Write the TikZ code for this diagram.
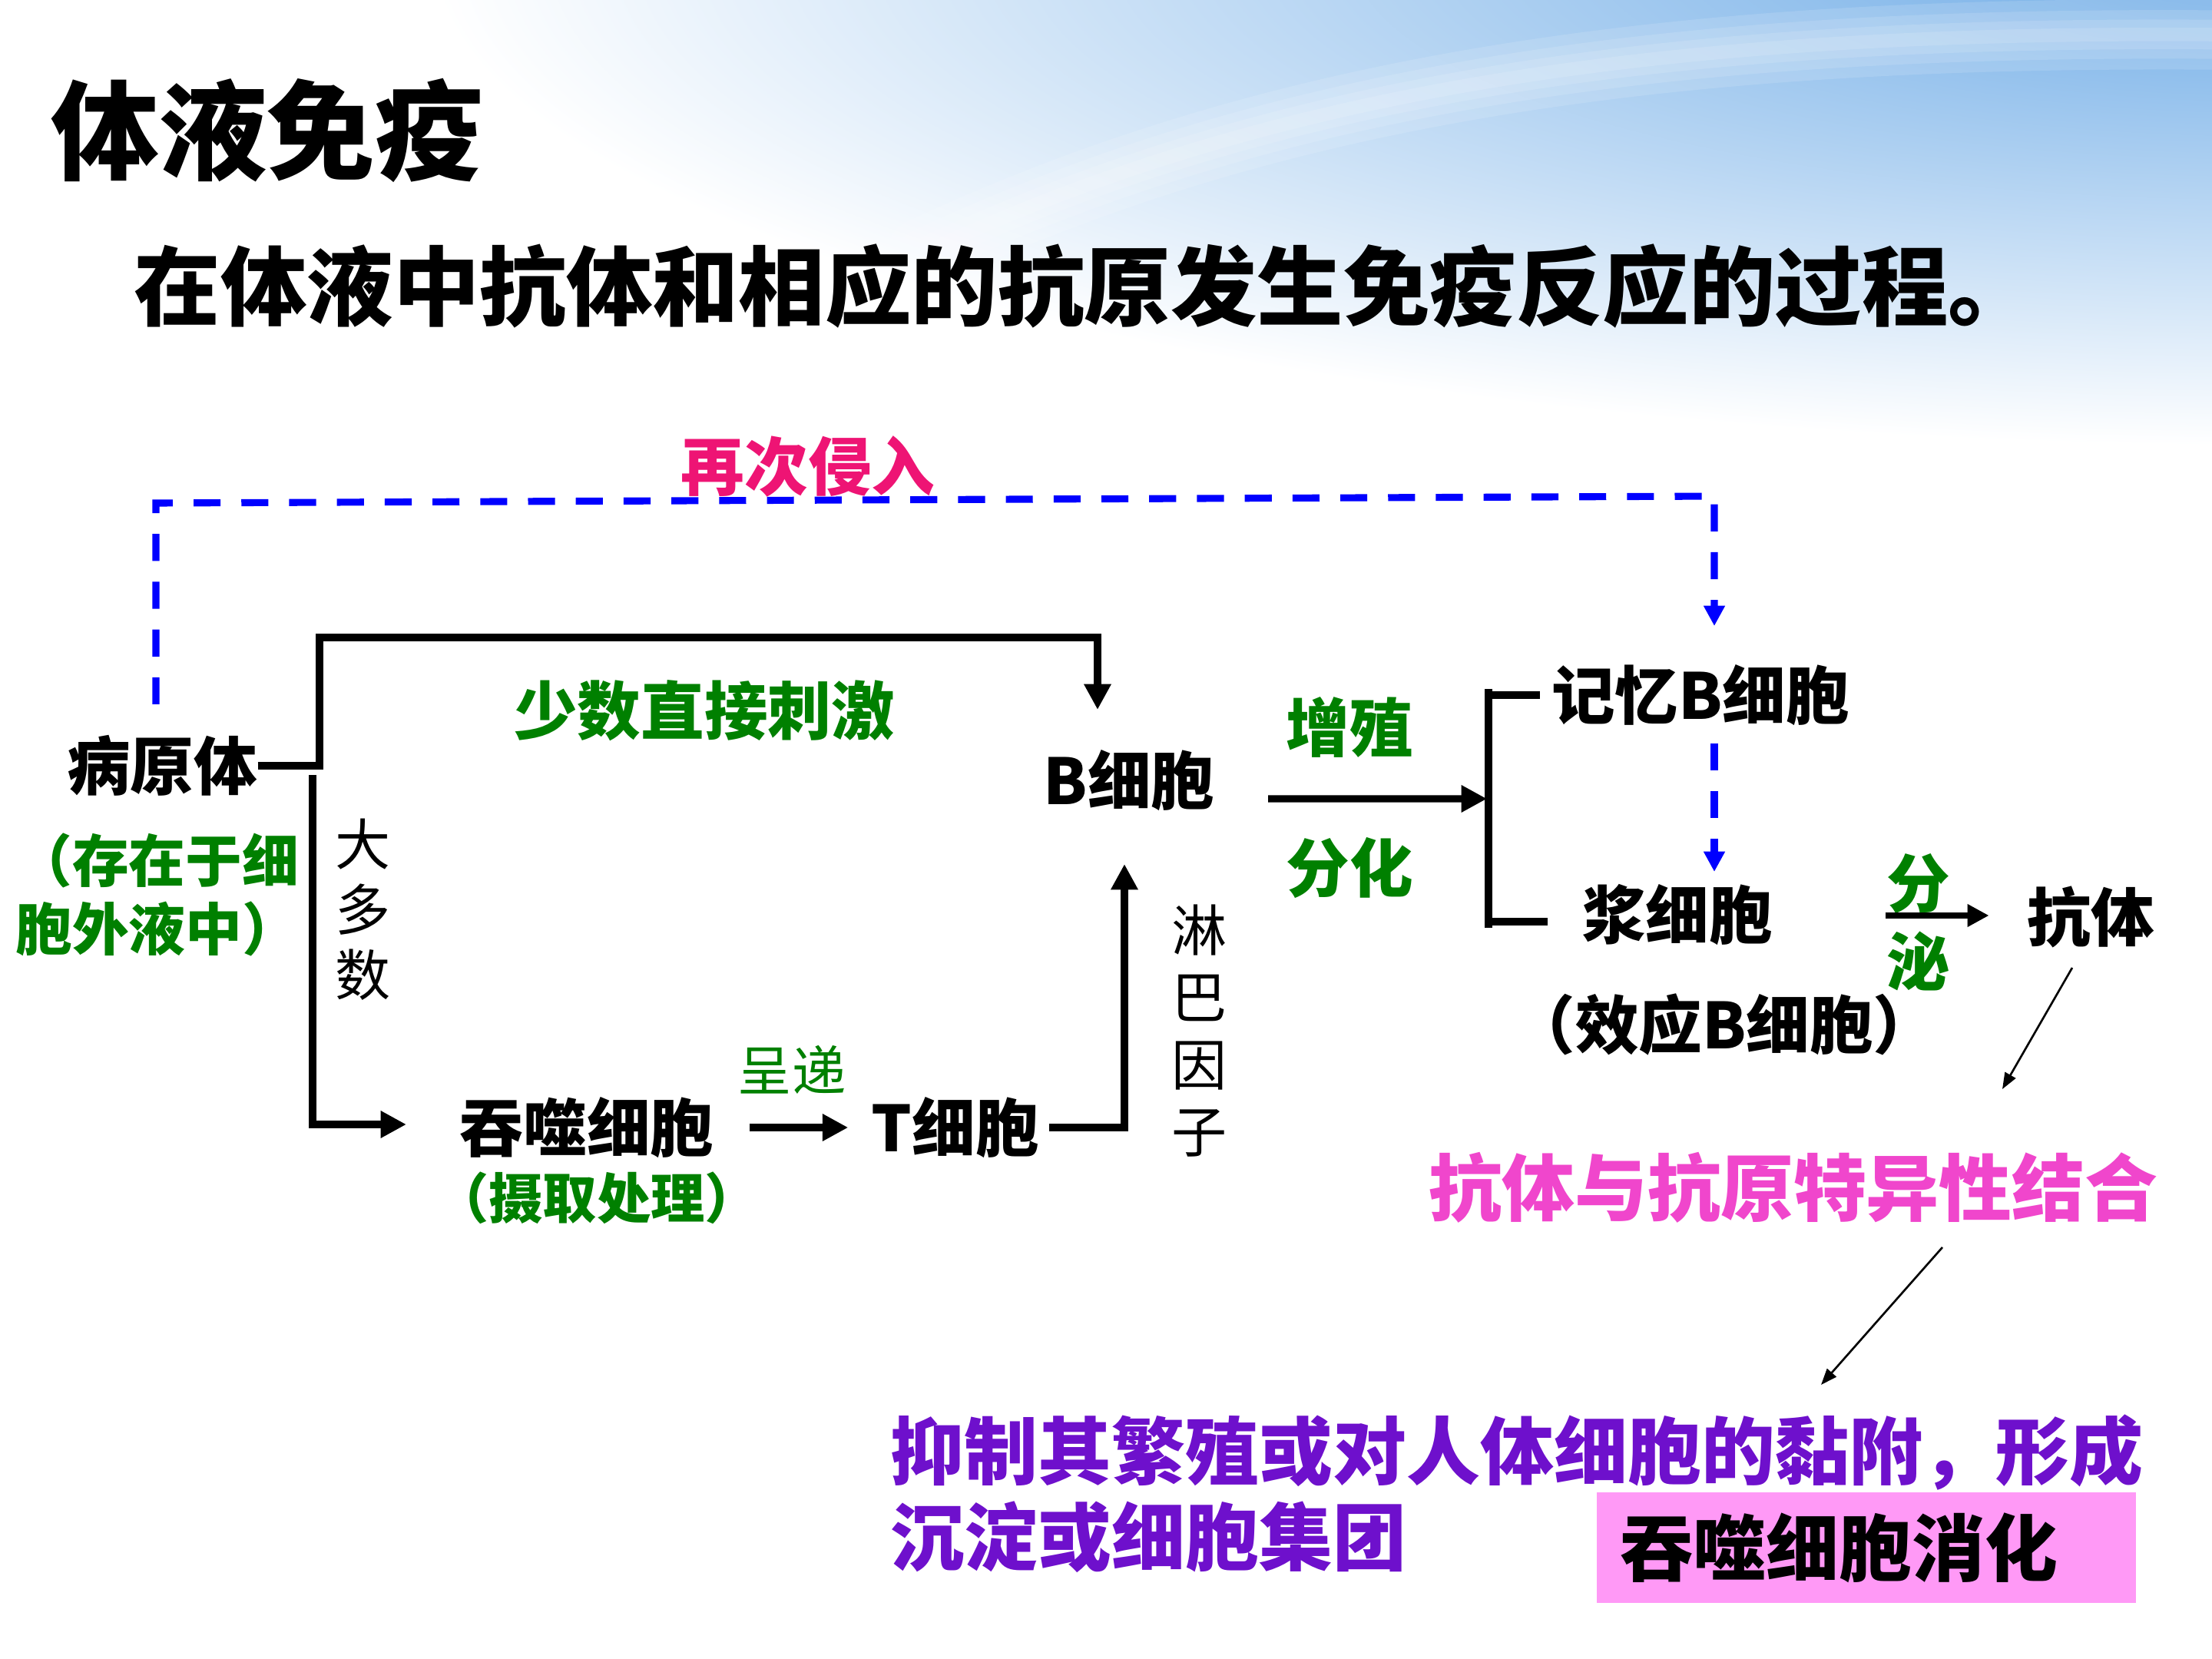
\documentclass[tikz,border=0pt]{standalone}
\usepackage{fontspec}
\setmainfont{Noto Sans CJK SC}
\usepackage{xcolor}
\usetikzlibrary{arrows.meta,positioning}
\definecolor{leafgreen}{HTML}{008000}
\definecolor{rosered}{HTML}{EE1474}
\definecolor{magline}{HTML}{F046CC}
\definecolor{violettext}{HTML}{6E10CC}
\definecolor{boxpink}{HTML}{FF99F6}
\definecolor{skyblue}{HTML}{6CAAE6}
\definecolor{dashblue}{HTML}{0000FF}
\tikzset{
  ttl/.style={inner sep=0pt,font=\fontsize{40}{48}\selectfont\bfseries},
  subttl/.style={inner sep=0pt,font=\fontsize{32}{38}\selectfont\bfseries},
  tlbl/.style={inner sep=0pt,font=\fontsize{23.5}{28}\selectfont\bfseries},
  glbl/.style={tlbl,text=leafgreen},
  slbl/.style={inner sep=0pt,font=\fontsize{20.5}{24.5}\selectfont},
  bigl/.style={inner sep=0pt,font=\fontsize{27}{32}\selectfont\bfseries},
  pinkbox/.style={bigl,fill=boxpink,inner xsep=0.31cm,inner ysep=0pt,minimum height=1.44cm,text width=6.4cm,align=left},
  varr/.style={-{Triangle[length=9.5pt,width=9.5pt]},line width=2.6pt},
  vline/.style={line width=2.6pt},
  sarr/.style={-{Triangle[length=8pt,width=8pt]},line width=2pt},
  tarr/.style={-{Triangle[length=6pt,width=4.5pt]},line width=0.75pt},
  darr/.style={-{Triangle[length=7.5pt,width=7.5pt]},line width=2.6pt,draw=dashblue,dash pattern=on 10pt off 7.7pt},
  swoosh/.style={white,opacity=0.13,line cap=round}
}
\begin{document}
\begin{tikzpicture}
  \useasboundingbox (0,0) rectangle (28.8,-21.6);
  % background
  \fill[white] (0,0) rectangle (28.8,-21.6);
  \begin{scope}
    \clip (0,0) rectangle (28.8,-7);
    \shade[inner color=skyblue,outer color=white] (29.6,0.6) ellipse (24 and 6.4);
    \foreach \w in {26,18,11,5}
      \draw[swoosh,line width=\w pt] (12.0,-3.3) .. controls (16.5,-1.2) and (21.5,-0.4) .. (28.8,-0.45);
  \end{scope}

  \node[ttl,anchor=west] (title) at (0.66,-1.70) {体液免疫};
  \node[subttl,anchor=west] (defn) at (1.74,-3.73) {在体液中抗体和相应的抗原发生免疫反应的过程。};

  % left part
  \node[tlbl,text=rosered] (again) at (10.52,-6.07) {再次侵入};
  \node[tlbl] (bingyuan) at (2.11,-9.97) {病原体};
  \node[glbl,font=\fontsize{21}{25.3}\selectfont\bfseries,align=left,anchor=east] (outside) at (3.90,-11.65) {（存在于细\\胞外液中）};
  \node[slbl,align=center,font=\fontsize{20.5}{24.2}\selectfont] (most) at (4.73,-11.84) {大\\多\\数};
  \node[glbl] (few) at (9.17,-9.25) {少数直接刺激};
  \node[tlbl] (bcell) at (14.70,-10.16) {B细胞};
  \node[tlbl] (tunshi) at (7.64,-14.68) {吞噬细胞};
  \node[glbl,font=\fontsize{20}{24}\selectfont\bfseries] (sheqv) at (7.77,-15.60) {（摄取处理）};
  \node[slbl,text=leafgreen,font=\fontsize{20}{24}\selectfont] (chengdi) at (10.31,-13.93) {呈递};
  \node[tlbl] (tcell) at (12.44,-14.68) {T细胞};
  \node[slbl,align=center,font=\fontsize{20.5}{24.9}\selectfont] (lymph) at (15.62,-13.42) {淋\\巴\\因\\子};

  % right part
  \node[glbl] (zengzhi) at (17.57,-9.47) {增殖};
  \node[glbl] (fenhua) at (17.57,-11.30) {分化};
  \node[tlbl] (jiyi) at (22.14,-9.05) {记忆B细胞};
  \node[tlbl] (jiang) at (21.84,-11.91) {浆细胞};
  \node[tlbl] (xiaoying) at (22.45,-13.34) {（效应B细胞）};
  \node[glbl,align=center,font=\fontsize{23.5}{29}\selectfont\bfseries] (fenmi) at (24.98,-12.01) {分\\泌};
  \node[tlbl] (kangti) at (27.22,-11.94) {抗体};
  \node[bigl,text=magline] (bind) at (23.35,-15.46) {抗体与抗原特异性结合};
  \node[bigl,text=violettext,font=\fontsize{27.3}{32}\selectfont\bfseries,align=left,anchor=west] (effect) at (11.59,-19.45) {抑制其繁殖或对人体细胞的黏附，形成\\沉淀或细胞集团};
  \node[pinkbox,anchor=west] (digest) at (20.78,-20.15) {吞噬细胞消化};

  % dashed paths
  \coordinate (d0) at (2.03,-9.17);
  \coordinate (d1) at (2.03,-6.55);
  \coordinate (d2) at (22.32,-6.46);
  \coordinate (d3) at (22.32,-8.15);
  \draw[darr] (d0) -- (d1) -- (d2) -- (d3);
  \coordinate (m0) at (22.32,-9.68);
  \coordinate (m1) at (22.32,-11.35);
  \draw[darr] (m0) -- (m1);

  % black connectors
  \coordinate (up1) at (4.16,-8.30);
  \coordinate (bin) at (14.29,-9.24);
  \draw[varr] (bingyuan.east) -| (up1) -| (bin);
  \coordinate (dn0) at (4.07,-10.09);
  \coordinate (tin) at (5.29,-14.64);
  \draw[varr] (dn0) |- (tin);
  \draw[varr] ([xshift=0.46cm]tunshi.east) -- ([xshift=-0.30cm]tcell.west);
  \coordinate (lup) at (14.64,-11.25);
  \draw[varr] ([xshift=0.12cm]tcell.east) -| (lup);
  \coordinate (brM) at (19.36,-10.40);
  \draw[varr] (bcell.east) ++(0.69,-0.24) -- (brM);
  \coordinate (brT) at (19.38,-8.97);
  \coordinate (brB) at (19.38,-12.08);
  \coordinate (tkB) at (20.15,-12.00);
  \draw[vline] (brT) -- (brB);
  \draw[vline] (brT |- jiyi.west) -- ([xshift=-0.14cm]jiyi.west);
  \draw[vline] (brB |- tkB) -- (tkB);
  \draw[sarr] (jiang.east) ++(1.46,-0.01) -- ++(1.35,0);

  % thin arrows
  \coordinate (k0) at (26.98,-12.60);
  \coordinate (k1) at (26.07,-14.18);
  \draw[tarr] (k0) -- (k1);
  \coordinate (j0) at (25.29,-16.24);
  \coordinate (j1) at (23.71,-18.03);
  \draw[tarr] (j0) -- (j1);
\end{tikzpicture}
\end{document}
